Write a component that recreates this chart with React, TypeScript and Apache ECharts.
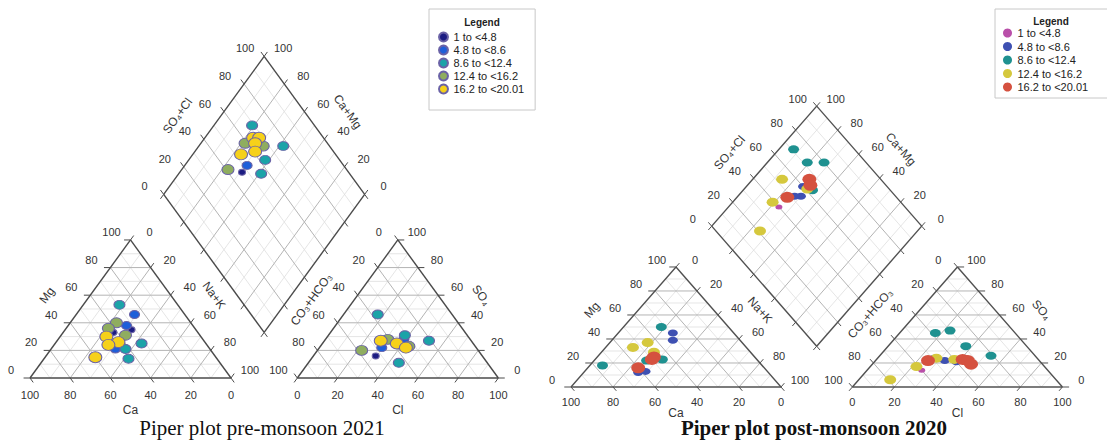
import React, { useEffect, useRef } from "react";
import * as echarts from "echarts";

// ---------- data (percentages) ----------
const classLabels = ["1 to <4.8", "4.8 to <8.6", "8.6 to <12.4", "12.4 to <16.2", "16.2 to <20.01"];
const tickValues = [0, 20, 40, 60, 80, 100];

// Pre-monsoon 2021
// cation triangle: [Mg %, Na+K %, class]
const preCation = [
  [53, 18, 2], [46, 29, 1], [40, 23, 3], [36, 21, 3], [38, 29, 1], [35, 33, 0],
  [33, 25, 0], [31, 32, 3], [30, 23, 4], [26, 31, 4], [24, 27, 4], [21, 32, 1],
  [22, 34, 0], [21, 37, 2], [25, 43, 2], [14, 42, 2], [15, 25, 4],
];
// anion triangle: [SO4 %, Cl %, class]
const preAnion = [
  [46, 17, 2], [31, 38, 2], [28, 39, 1], [28, 31, 3], [27, 28, 4], [25, 37, 4],
  [23, 44, 3], [22, 43, 4], [22, 31, 1], [27, 52, 2], [20, 22, 3], [16, 31, 0], [11, 45, 2],
];
// diamond: [SO4+Cl %, Na+K %, class]
const preDiamond = [
  [69, 19, 2], [59, 22, 3], [64, 30, 1], [67, 32, 3], [65, 24, 4], [68, 27, 4],
  [64, 27, 4], [53, 24, 4], [61, 30, 4], [77, 42, 2], [63, 38, 2], [52, 31, 1],
  [41, 23, 3], [47, 31, 0], [56, 41, 2],
];

// Post-monsoon 2020
const postCation = [
  [50, 18, 2], [45, 26, 1], [39, 29, 1], [37, 18, 3], [33, 13, 3], [29, 25, 3],
  [22, 25, 2], [23, 32, 2], [25, 27, 4], [23, 27, 4], [18, 6, 2], [16, 24, 4],
  [12, 26, 1], [13, 29, 1],
];
const postAnion = [
  [45, 17, 2], [47, 23, 2], [34, 37, 2], [26, 53, 2], [24, 27, 1], [24, 28, 3],
  [22, 25, 4], [22, 33, 1], [23, 37, 3], [21, 39, 1], [23, 41, 4], [22, 44, 4],
  [19, 47, 4], [17, 22, 3], [14, 26, 0], [6, 15, 3],
];
const postDiamond = [
  [71, 7, 2], [72, 19, 2], [80, 27, 2], [53, 14, 3], [60, 27, 1], [61, 30, 3],
  [63, 33, 2], [66, 27, 4], [64, 30, 4], [55, 30, 1], [52, 27, 1], [48, 24, 4],
  [39, 19, 3], [40, 24, 0], [21, 25, 3],
];

// ---------- styles ----------
const preColors = ["#1c1c82", "#1f5fd9", "#1ba3a8", "#8fad5f", "#f6d11a"];
const postColors = ["#b94fa9", "#3e50b2", "#1f9190", "#d5c83d", "#d5513f"];
const preSizes = [[7, 6], [10, 8], [11, 9], [12, 10], [13, 11]];
const postSizes = [[7, 5], [10, 7], [11, 8], [12, 9], [14, 11]];
const FONT = "'Liberation Sans', Arial, sans-serif";
const SERIF = "'Liberation Serif', 'Times New Roman', serif";
const H = Math.sqrt(3) / 2;
const ELLIPSE = "path://M1 0A1 1 0 1 1 1 2A1 1 0 1 1 1 0Z";

const panels = [
  {
    key: "pre", g: 33, ox: 30, oy: 378, sx: 2.01, sy: 1.594,
    xmin: -14, xmax: 250, ymin: -12, ymax: 210,
    cation: preCation, anion: preAnion, diamond: preDiamond,
    colors: preColors, sizes: preSizes, border: "#6a62a6",
    edge: "#4a4a4a", major: "#b4b4b4", minor: "#dedede",
    ldx: 19, ldy: -8, bdy: 17, tdist: 35, bdist: 32,
  },
  {
    key: "post", g: 34, ox: 571, oy: 387, sx: 2.1, sy: 1.386,
    xmin: -14, xmax: 250, ymin: -12, ymax: 210,
    cation: postCation, anion: postAnion, diamond: postDiamond,
    colors: postColors, sizes: postSizes, border: null,
    edge: "#505050", major: "#b4b4b4", minor: "#dedede",
    ldx: 19, ldy: -7, bdy: 15, tdist: 35, bdist: 26,
  },
];

// ternary / diamond geometry in plot units (triangle side = 100)
const triXY = (x0: number, a: number, b: number, c: number) => [x0 + b + c / 2, c * H];
const cationXY = (mg: number, nak: number) => triXY(0, 100 - mg - nak, nak, mg);
const anionXY = (g: number, so4: number, cl: number) => triXY(100 + g, 100 - so4 - cl, cl, so4);
const diamondXY = (g: number, a: number, n: number) => [
  50 + g / 2 + 0.5 * (a + n),
  H * (100 + g) + H * (a - n),
];

function buildFrame(api: any, p: any) {
  const g = p.g;
  const ch: any[] = [];
  const px = (pt: number[]) => api.coord(pt);
  const seg = (a: number[], b: number[], stroke: string, w: number) => {
    const A = px(a), B = px(b);
    ch.push({ type: "line", shape: { x1: A[0], y1: A[1], x2: B[0], y2: B[1] }, style: { stroke, lineWidth: w } });
  };
  const txt = (x: number, y: number, str: string, rot = 0, size = 11, weight: any = "normal") => {
    ch.push({
      type: "text", x, y, rotation: rot,
      style: { text: str, fill: "#333", fontSize: size, fontFamily: FONT, fontWeight: weight, align: "center", verticalAlign: "middle" },
    });
  };
  const lab = (pt: number[], str: string, dx: number, dy: number) => {
    const A = px(pt);
    txt(A[0] + dx, A[1] + dy, str);
  };
  const T = 3.2;
  const tick = (pt: number[], dir: number[]) => seg(pt, [pt[0] + dir[0] * T, pt[1] + dir[1] * T], p.edge, 1);
  const D = (a: number, n: number) => diamondXY(g, a, n);
  const title = (P: number[], Q: number[], t: number, inner: number[], str: string, rotate: boolean, dist: number) => {
    const Pp = px(P), Qp = px(Q), Ip = px(inner);
    let dx = Qp[0] - Pp[0], dy = Qp[1] - Pp[1];
    const len = Math.hypot(dx, dy);
    dx /= len; dy /= len;
    const S = [Pp[0] + (Qp[0] - Pp[0]) * t, Pp[1] + (Qp[1] - Pp[1]) * t];
    let nx = dy, ny = -dx;
    if ((Ip[0] - S[0]) * nx + (Ip[1] - S[1]) * ny > 0) { nx = -nx; ny = -ny; }
    if (dx < 0) { dx = -dx; dy = -dy; }
    const rot = rotate ? -Math.atan2(dy, dx) : 0;
    txt(S[0] + nx * dist, S[1] + ny * dist, str, rot, 12);
  };

  const xs = [0, 100 + g];
  // grid lines: minor first, then major
  for (const pass of [0, 1]) {
    for (let k = 10; k < 100; k += 10) {
      const major = k % 20 === 0;
      if ((pass === 1) !== major) continue;
      const col = major ? p.major : p.minor;
      const w = major ? 1 : 0.8;
      for (const x0 of xs) {
        seg(triXY(x0, 100 - k, 0, k), triXY(x0, 0, 100 - k, k), col, w);
        seg(triXY(x0, k, 100 - k, 0), triXY(x0, k, 0, 100 - k), col, w);
        seg(triXY(x0, 100 - k, k, 0), triXY(x0, 0, k, 100 - k), col, w);
      }
      seg(D(k, 0), D(k, 100), col, w);
      seg(D(0, k), D(100, k), col, w);
    }
  }
  // edges
  for (const x0 of xs) {
    seg(triXY(x0, 100, 0, 0), triXY(x0, 0, 100, 0), p.edge, 1.4);
    seg(triXY(x0, 0, 100, 0), triXY(x0, 0, 0, 100), p.edge, 1.4);
    seg(triXY(x0, 0, 0, 100), triXY(x0, 100, 0, 0), p.edge, 1.4);
  }
  seg(D(0, 0), D(100, 0), p.edge, 1.4);
  seg(D(100, 0), D(100, 100), p.edge, 1.4);
  seg(D(100, 100), D(0, 100), p.edge, 1.4);
  seg(D(0, 100), D(0, 0), p.edge, 1.4);

  const ax = 100 + g;
  for (const k of tickValues) {
    const s = String(k);
    // cation: Mg (left), Na+K (right), Ca (base)
    tick(triXY(0, 100 - k, 0, k), [-1, 0]);
    lab(triXY(0, 100 - k, 0, k), s, -p.ldx, p.ldy);
    tick(triXY(0, 0, k, 100 - k), [0.5, H]);
    lab(triXY(0, 0, k, 100 - k), s, p.ldx, p.ldy);
    tick(triXY(0, k, 100 - k, 0), [0.5, -H]);
    lab(triXY(0, k, 100 - k, 0), s, 0, p.bdy);
    // anion: CO3+HCO3 (left), SO4 (right), Cl (base)
    tick(triXY(ax, k, 0, 100 - k), [-0.5, H]);
    lab(triXY(ax, k, 0, 100 - k), s, -p.ldx, p.ldy);
    tick(triXY(ax, 0, 100 - k, k), [1, 0]);
    lab(triXY(ax, 0, 100 - k, k), s, p.ldx, p.ldy);
    tick(triXY(ax, 100 - k, k, 0), [-0.5, -H]);
    lab(triXY(ax, 100 - k, k, 0), s, 0, p.bdy);
    // diamond
    tick(D(k, 0), [-0.5, H]);
    lab(D(k, 0), s, -p.ldx, p.ldy);
    tick(D(100, k), [0.5, H]);
    lab(D(100, k), String(100 - k), p.ldx, p.ldy);
    tick(D(0, k), [-0.5, -H]);
    tick(D(k, 100), [0.5, -H]);
  }

  // axis titles
  const cC = triXY(0, 33, 33, 34), aC = triXY(ax, 33, 33, 34), dC = D(50, 50);
  const td = p.tdist, bd = p.bdist;
  title(triXY(0, 100, 0, 0), triXY(0, 0, 0, 100), 0.45, cC, "Mg", true, td);
  title(triXY(0, 0, 0, 100), triXY(0, 0, 100, 0), 0.55, cC, "Na+K", true, td);
  title(triXY(0, 100, 0, 0), triXY(0, 0, 100, 0), 0.5, cC, "Ca", false, bd);
  title(triXY(ax, 0, 0, 100), triXY(ax, 100, 0, 0), 0.58, aC, "CO\u2083+HCO\u2083", true, td);
  title(triXY(ax, 0, 100, 0), triXY(ax, 0, 0, 100), 0.45, aC, "SO\u2084", true, td);
  title(triXY(ax, 100, 0, 0), triXY(ax, 0, 100, 0), 0.5, aC, "Cl", false, bd);
  title(D(0, 0), D(100, 0), 0.42, dC, "SO\u2084+Cl", true, td);
  title(D(100, 0), D(100, 100), 0.55, dC, "Ca+Mg", true, td);

  return { type: "group", children: ch };
}

export default function App() {
  const ref = useRef<HTMLDivElement>(null);
  useEffect(() => {
    document.body.style.margin = "0";
    if (!ref.current) return;
    const chart = echarts.init(ref.current, null, { renderer: "svg" });

    const series: any[] = [];
    panels.forEach((p, i) => {
      series.push({
        type: "custom", xAxisIndex: i, yAxisIndex: i, data: [[0, 0]], silent: true, clip: false, z: 1,
        renderItem: (_params: any, api: any) => buildFrame(api, p),
      });
      classLabels.forEach((lbl, c) => {
        const pts: number[][] = [];
        p.cation.filter((d) => d[2] === c).forEach((d) => pts.push(cationXY(d[0], d[1])));
        p.anion.filter((d) => d[2] === c).forEach((d) => pts.push(anionXY(p.g, d[0], d[1])));
        p.diamond.filter((d) => d[2] === c).forEach((d) => pts.push(diamondXY(p.g, d[0], d[1])));
        series.push({
          type: "scatter", name: p.key + "|" + lbl, xAxisIndex: i, yAxisIndex: i, z: 3,
          symbol: ELLIPSE, symbolSize: p.sizes[c], data: pts, clip: false,
          itemStyle: {
            color: p.colors[c], opacity: 1,
            borderColor: p.border || p.colors[c], borderWidth: p.border ? 1 : 0,
          },
        });
      });
    });

    const legendBase = {
      orient: "vertical", icon: "circle", itemWidth: 10, itemHeight: 9,
      borderColor: "#c8c8c8", borderWidth: 1, backgroundColor: "#fff",
      selectedMode: false,
      formatter: (name: string) => name.split("|")[1],
    };

    chart.setOption({
      animation: false,
      grid: panels.map((p) => ({
        left: p.ox + p.xmin * p.sx, top: p.oy - p.ymax * p.sy,
        width: (p.xmax - p.xmin) * p.sx, height: (p.ymax - p.ymin) * p.sy,
        show: false, containLabel: false,
      })),
      xAxis: panels.map((p, i) => ({ type: "value", gridIndex: i, min: p.xmin, max: p.xmax, show: false })),
      yAxis: panels.map((p, i) => ({ type: "value", gridIndex: i, min: p.ymin, max: p.ymax, show: false })),
      legend: [
        {
          ...legendBase, left: 429, top: 9, padding: [22.5, 11, 15.5, 9], itemGap: 2,
          textStyle: { fontSize: 11, lineHeight: 11, color: "#222", fontFamily: FONT },
          data: classLabels.map((l) => "pre|" + l),
        },
        {
          ...legendBase, left: 995, top: 9, padding: [18.5, 20, 5.5, 8], itemGap: 2.5,
          textStyle: { fontSize: 11, lineHeight: 11, color: "#222", fontFamily: FONT },
          data: classLabels.map((l) => "post|" + l),
        },
      ],
      graphic: [
        { type: "text", x: 482, y: 22, style: { text: "Legend", fontSize: 10, fontWeight: 600, fontFamily: FONT, fill: "#222", align: "center", verticalAlign: "middle" }, z: 10 },
        { type: "text", x: 1051, y: 21, style: { text: "Legend", fontSize: 10, fontWeight: 600, fontFamily: FONT, fill: "#222", align: "center", verticalAlign: "middle" }, z: 10 },
        { type: "text", x: 262, y: 428, style: { text: "Piper plot pre-monsoon 2021", fontSize: 21, fontFamily: SERIF, fill: "#111", align: "center", verticalAlign: "middle" } },
        { type: "text", x: 814, y: 428, style: { text: "Piper plot post-monsoon 2020", fontSize: 21, fontWeight: "bold", fontFamily: SERIF, fill: "#111", align: "center", verticalAlign: "middle" } },
      ],
      series,
    });
    return () => chart.dispose();
  }, []);
  return <div ref={ref} style={{ width: 1107, height: 440, background: "#fff" }} />;
}
